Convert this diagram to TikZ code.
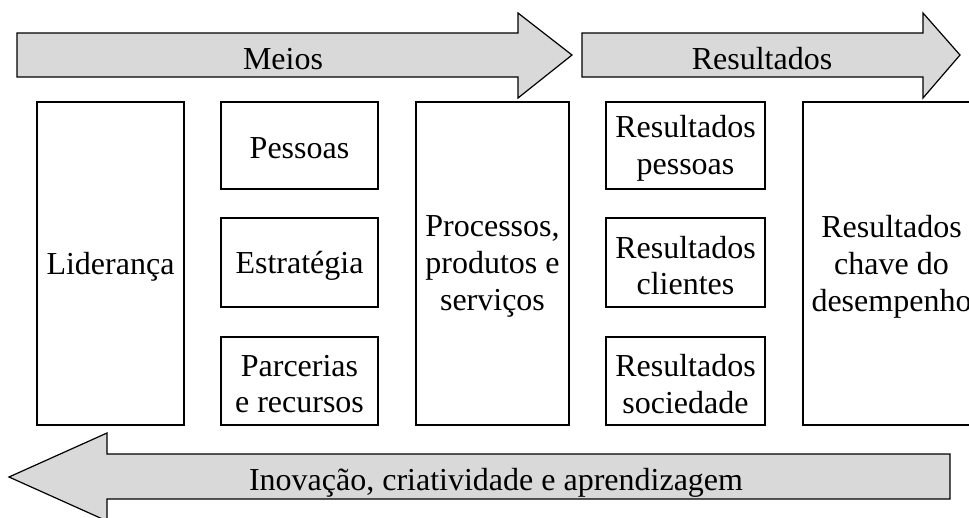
\documentclass[tikz,border=0pt]{standalone}
\usepackage{fontspec}
\setmainfont{Liberation Serif}
\definecolor{arrowgray}{RGB}{217,217,217}
\begin{document}
\begin{tikzpicture}[x=1pt,y=-1pt,
  box/.style={draw, line width=1.6pt, inner sep=0pt},
  txt/.style={inner sep=0pt, align=center, yshift=-3pt,
    font=\fontsize{32}{36.8}\selectfont},
  bigarrow/.style={draw, fill=arrowgray, line width=1.2pt, line join=miter},
  lbl/.style={inner sep=0pt, anchor=base, font=\fontsize{32}{36.8}\selectfont}]
\useasboundingbox (0,0) rectangle (969,517);
\clip (0,0) rectangle (969,517);

% top arrows
\draw[bigarrow] (17,33) -- (518,33) -- (518,13) -- (572,55) -- (518,98) -- (518,77) -- (17,77) -- cycle;
\node[lbl] (meios) at (283,69) {Meios};
\draw[bigarrow] (582,33) -- (923,33) -- (923,13) -- (960,55) -- (923,98) -- (923,77) -- (582,77) -- cycle;
\node[lbl] (resultados) at (762,69) {Resultados};

% bottom arrow
\draw[bigarrow] (950,454) -- (107,454) -- (107,433) -- (9,477) -- (107,521) -- (107,499) -- (950,499) -- cycle;
\node[lbl] (inovacao) at (496,490) {Inovação, criatividade e aprendizagem};

% boxes
\node[box, minimum width=147pt, minimum height=323pt] (lid) at (110.5,263.5) {};
\node[txt] (lidt) at (lid.center) {Liderança};
\node[box, minimum width=157pt, minimum height=87pt] (pes) at (299.5,145.5) {};
\node[txt] (pest) at (pes.center) {Pessoas};
\node[box, minimum width=157pt, minimum height=89pt] (est) at (299.5,262.5) {};
\node[txt] (estt) at (est.center) {Estratégia};
\node[box, minimum width=157pt, minimum height=88pt] (par) at (299.5,381) {};
\node[txt] (part) at (par.center) {Parcerias\\e recursos};
\node[box, minimum width=153pt, minimum height=323pt] (pro) at (492.5,263.5) {};
\node[txt] (prot) at (pro.center) {Processos,\\produtos e\\serviços};
\node[box, minimum width=159pt, minimum height=87pt] (rp) at (685.5,145.5) {};
\node[txt] (rpt) at (rp.center) {Resultados\\pessoas};
\node[box, minimum width=159pt, minimum height=89pt] (rc) at (685.5,262.5) {};
\node[txt] (rct) at (rc.center) {Resultados\\clientes};
\node[box, minimum width=159pt, minimum height=88pt] (rs) at (685.5,381) {};
\node[txt] (rst) at (rs.center) {Resultados\\sociedade};
\node[box, minimum width=177pt, minimum height=323pt] (rk) at (891.5,263.5) {};
\node[txt] (rkt) at (rk.center) {Resultados\\chave do\\desempenho};
\end{tikzpicture}
\end{document}
